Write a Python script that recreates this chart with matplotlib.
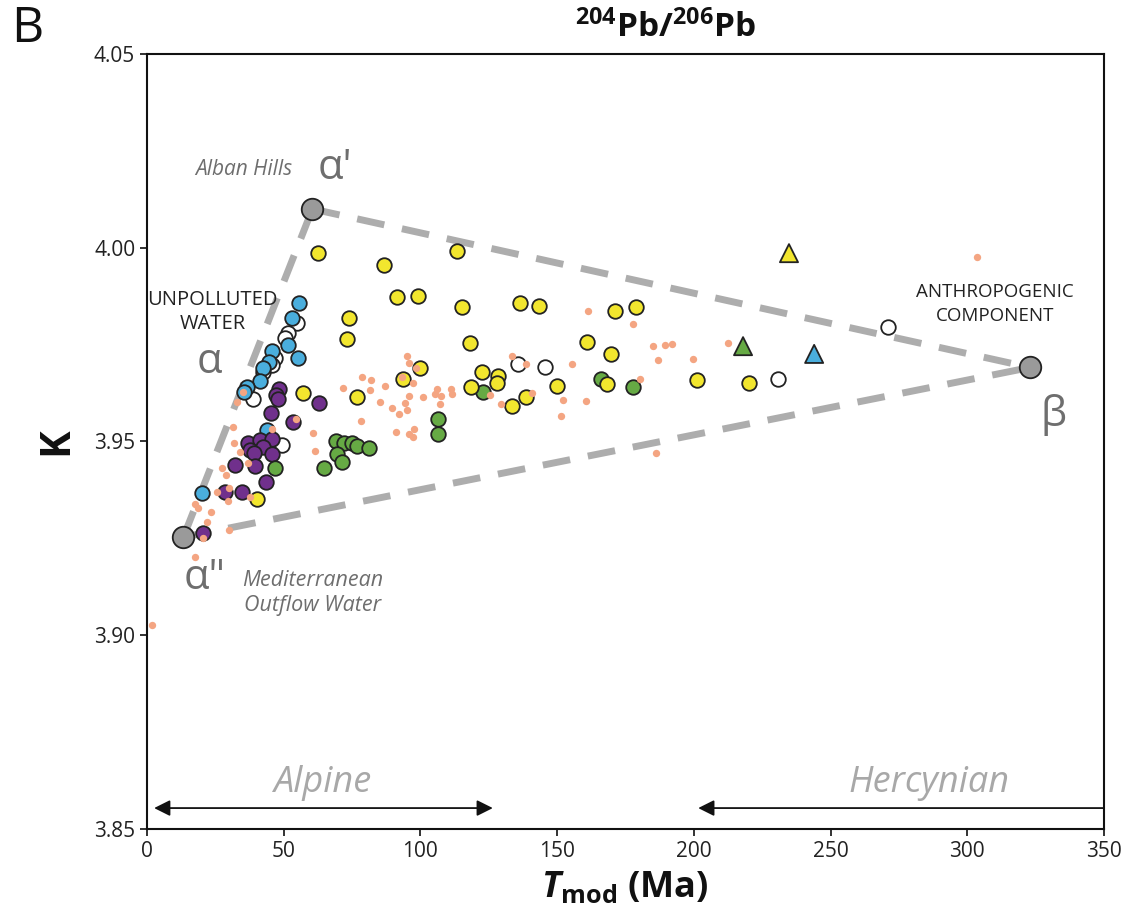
import matplotlib
matplotlib.use("Agg")
import matplotlib.pyplot as plt

plt.rcParams['font.family'] = ['Open Sans', 'DejaVu Sans']
plt.rcParams['mathtext.fontset'] = 'custom'
plt.rcParams['mathtext.rm'] = 'Open Sans'
plt.rcParams['mathtext.bf'] = 'Open Sans:bold'
plt.rcParams['mathtext.it'] = 'Open Sans:italic'
plt.rcParams['mathtext.bfit'] = 'Open Sans:bold:italic'

# end-members (Tmod, K)
end_x = [60.5, 13.3, 323.0]      # alpha', alpha'', beta
end_y = [4.0100, 3.9253, 3.9691]

# filled circles by group
yellow_x = [62.5, 86.7, 91.4, 99.1, 113.4, 115.2, 136.4, 143.4, 171.2, 178.9,
            73.9, 73.2, 118.1, 160.9, 169.7, 99.9, 93.6, 122.5, 128.4, 128.0,
            118.5, 76.8, 150.0, 138.6, 133.5, 168.2, 201.2, 220.2, 57.1, 40.2]
yellow_y = [3.9986, 3.9955, 3.9873, 3.9876, 3.9992, 3.9847, 3.9857, 3.9850, 3.9837, 3.9847,
            3.9819, 3.9765, 3.9754, 3.9757, 3.9726, 3.9690, 3.9661, 3.9679, 3.9669, 3.9651,
            3.9641, 3.9615, 3.9643, 3.9615, 3.9592, 3.9648, 3.9659, 3.9651, 3.9625, 3.9352]

green_x = [46.8, 64.7, 69.1, 72.1, 75.0, 76.8, 81.2, 69.5, 71.3, 106.4, 106.4, 122.9, 166.1, 177.8]
green_y = [3.9432, 3.9432, 3.9501, 3.9496, 3.9496, 3.9488, 3.9483, 3.9468, 3.9447, 3.9558,
           3.9519, 3.9628, 3.9661, 3.9641]

purple_x = [48.3, 47.2, 47.9, 62.9, 45.4, 53.4, 36.9, 41.3, 45.7, 37.7, 42.4, 39.1, 45.7,
            32.2, 39.5, 43.5, 28.5, 34.7, 20.5]
purple_y = [3.9635, 3.9620, 3.9610, 3.9599, 3.9574, 3.9550, 3.9496, 3.9504, 3.9506, 3.9478,
            3.9486, 3.9470, 3.9468, 3.9439, 3.9437, 3.9396, 3.9370, 3.9370, 3.9264]

blue_x = [55.6, 53.0, 51.6, 55.2, 45.7, 44.6, 42.4, 41.3, 36.6, 35.5, 43.9, 20.1]
blue_y = [3.9857, 3.9819, 3.9749, 3.9715, 3.9734, 3.9705, 3.9690, 3.9656, 3.9641, 3.9628,
          3.9530, 3.9367]

white_x = [54.9, 51.6, 50.5, 46.8, 45.7, 42.4, 38.8, 49.4, 135.7, 145.6, 230.8, 271.0]
white_y = [3.9806, 3.9780, 3.9767, 3.9715, 3.9697, 3.9679, 3.9610, 3.9491, 3.9700, 3.9692,
           3.9661, 3.9795]

# triangles
tri_x = [218.0, 234.8, 244.0]
tri_y = [3.9746, 3.9986, 3.9726]
tri_c = ['#66AA44', '#F2E62E', '#4AAEDD']

# small orange dots
dot_x = [161.3, 177.8, 185.1, 189.5, 192.0, 186.9, 199.7, 212.5, 180.3, 155.4, 133.5, 138.6,
         140.8, 152.2, 151.4, 160.6, 186.2, 129.5, 125.5, 95.1, 95.8, 98.4, 93.3, 97.3, 78.6,
         81.9, 71.7, 81.6, 87.1, 95.8, 100.9, 105.3, 106.1, 107.5, 111.2, 111.6, 85.2, 89.6,
         94.4, 95.1, 92.2, 107.2, 78.3, 91.1, 97.7, 95.8, 97.3, 303.6, 54.5, 60.7, 61.4,
         35.1, 32.9, 31.5, 45.7, 31.8, 34.0, 27.4, 28.9, 36.9, 25.6, 30.0, 29.6, 37.7, 17.6,
         18.7, 23.4, 21.9, 30.0, 20.5, 17.6, 1.8]
dot_y = [3.9837, 3.9803, 3.9746, 3.9749, 3.9752, 3.9710, 3.9713, 3.9754, 3.9661, 3.9700, 3.9721, 3.9700,
         3.9625, 3.9607, 3.9566, 3.9604, 3.9469, 3.9597, 3.9620, 3.9721, 3.9703, 3.9690, 3.9666, 3.9651, 3.9666,
         3.9659, 3.9638, 3.9633, 3.9643, 3.9617, 3.9615, 3.9622, 3.9635, 3.9617, 3.9635, 3.9622, 3.9602, 3.9586,
         3.9599, 3.9581, 3.9571, 3.9597, 3.9553, 3.9525, 3.9532, 3.9519, 3.9512, 3.9976, 3.9558, 3.9522, 3.9475,
         3.9628, 3.9602, 3.9537, 3.9532, 3.9496, 3.9473, 3.9432, 3.9414, 3.9445, 3.9370, 3.9380, 3.9346, 3.9357, 3.9339,
         3.9328, 3.9318, 3.9292, 3.9272, 3.9251, 3.9202, 3.9026]

xticks = [0, 50, 100, 150, 200, 250, 300, 350]
yticks = [3.85, 3.90, 3.95, 4.00, 4.05]

fig = plt.figure(figsize=(11.28, 9.21), dpi=100)
ax = fig.add_axes([0.1303, 0.0999, 0.8484, 0.8415])

# mixing triangle
dash = (0, (4, 2.6))
for i, j in [(1, 0), (0, 2), (1, 2)]:
    ax.plot([end_x[i], end_x[j]], [end_y[i], end_y[j]], color='#ADADAD', lw=5,
            linestyle=dash, dash_capstyle='butt', zorder=1)

ax.scatter(end_x, end_y, s=240, c='#9A9A9A', edgecolors='#222222', linewidths=1.3, zorder=3)

kw = dict(s=110, edgecolors='#222222', linewidths=1.3, zorder=4)
ax.scatter(white_x, white_y, c='white', **kw)
ax.scatter(blue_x, blue_y, c='#4AAEDD', **kw)
ax.scatter(purple_x, purple_y, c='#70308C', **kw)
ax.scatter(green_x, green_y, c='#66AA44', **kw)
ax.scatter(yellow_x, yellow_y, c='#F2E62E', **kw)
ax.scatter(tri_x, tri_y, marker='^', s=170, c=tri_c, edgecolors='#222222', linewidths=1.3, zorder=4)

ax.scatter(dot_x, dot_y, s=28, c='#F4A582', linewidths=0, zorder=5)

# labels inside the plot
grey = '#6E6E6E'
ax.text(35.5, 4.0201, 'Alban Hills', style='italic', color=grey, fontsize=15, ha='center', va='center')
ax.text(68.8, 4.0206, "α'", color=grey, fontsize=30, ha='center', va='center')
ax.text(24.1, 3.9834, 'UNPOLLUTED\nWATER', color='#222222', fontsize=14.5, ha='center', va='center',
        linespacing=1.3)
ax.text(23.0, 3.9705, 'α', color=grey, fontsize=30, ha='center', va='center')
ax.text(21.2, 3.9148, 'α"', color=grey, fontsize=30, ha='center', va='center')
ax.text(60.7, 3.9109, 'Mediterranean\nOutflow Water', style='italic', color=grey, fontsize=15.5,
        ha='center', va='center', linespacing=1.3)
ax.text(310.2, 3.9855, 'ANTHROPOGENIC\nCOMPONENT', color='#222222', fontsize=13.5, ha='center',
        va='center', linespacing=1.4)
ax.text(331.4, 3.9568, 'β', color=grey, fontsize=30, ha='center', va='center')

ax.text(64.0, 3.8619, 'Alpine', style='italic', color='#A8A8A8', fontsize=26, ha='center', va='center')
ax.text(286.0, 3.8619, 'Hercynian', style='italic', color='#A8A8A8', fontsize=26, ha='center', va='center')
ax.annotate('', xy=(1.6, 3.8554), xytext=(127.5, 3.8554),
            arrowprops=dict(arrowstyle='<|-|>', color='#111111', lw=1.3, mutation_scale=24))
ax.annotate('', xy=(201.6, 3.8554), xytext=(350, 3.8554),
            arrowprops=dict(arrowstyle='-|>', color='#111111', lw=1.3, mutation_scale=24,
                            shrinkA=0, shrinkB=0))

ax.set_xlim(0, 350)
ax.set_ylim(3.85, 4.05)
ax.set_xticks(xticks)
ax.set_yticks(yticks)
ax.set_yticklabels(['%.2f' % v for v in yticks])
ax.tick_params(direction='out', length=5, width=1.3, labelsize=15, colors='#222222')
for sp in ax.spines.values():
    sp.set_linewidth(1.5)
    sp.set_color('#111111')

fig.text(0.024, 0.968, 'B', fontsize=36, ha='center', va='center', color='#111111')
fig.text(0.59, 0.97, r'$^{\mathbf{204}}$Pb/$^{\mathbf{206}}$Pb', fontsize=24, fontweight='bold',
         ha='center', va='center', color='#111111')
fig.text(0.0505, 0.521, 'K', fontsize=30, fontweight='bold', rotation=90, ha='center', va='center',
         color='#111111')
fig.text(0.554, 0.036, r'$\mathbfit{T}_{\mathbf{mod}}$ (Ma)', fontsize=26, fontweight='bold',
         ha='center', va='center', color='#111111')

fig.savefig('out.png', dpi=100)
